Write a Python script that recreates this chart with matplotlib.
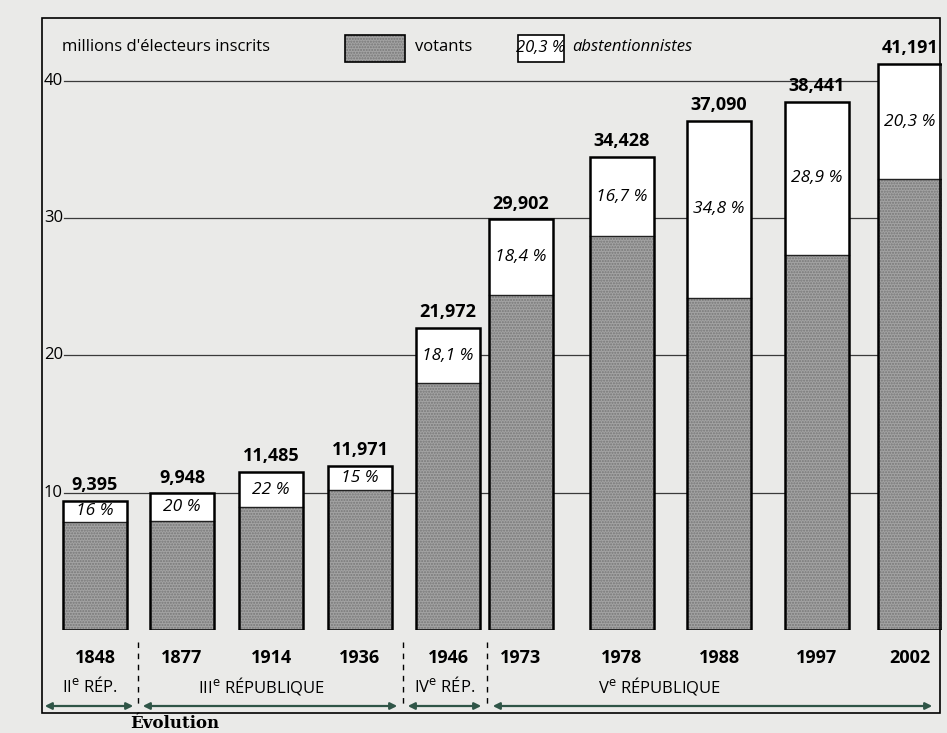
import numpy as np
import matplotlib
matplotlib.use('Agg')
import matplotlib.pyplot as plt
from matplotlib.patches import Rectangle, FancyArrowPatch

plt.rcParams['font.family'] = ['Open Sans', 'DejaVu Sans']

# data
years = ['1848', '1877', '1914', '1936', '1946', '1973', '1978', '1988', '1997', '2002']
inscrits = [9.395, 9.948, 11.485, 11.971, 21.972, 29.902, 34.428, 37.090, 38.441, 41.191]
abst_pct = [16, 20, 22, 15, 18.1, 18.4, 16.7, 34.8, 28.9, 20.3]
abst_txt = ['16 %', '20 %', '22 %', '15 %', '18,1 %', '18,4 %', '16,7 %', '34,8 %', '28,9 %', '20,3 %']
val_txt = ['9,395', '9,948', '11,485', '11,971', '21,972', '29,902', '34,428', '37,090', '38,441', '41,191']
yticks = [10, 20, 30, 40]
regimes = ['II$^{\\mathrm{e}}$ RÉP.', 'III$^{\\mathrm{e}}$ RÉPUBLIQUE', 'IV$^{\\mathrm{e}}$ RÉP.', 'V$^{\\mathrm{e}}$ RÉPUBLIQUE']

votants = [t * (1 - p / 100) for t, p in zip(inscrits, abst_pct)]

# layout (pixels across the figure)
xpos = [95, 182, 271, 360, 448, 521, 622, 719, 817, 910]
bw = 64
bg = '#eaeae8'
grey = '#a3a3a3'

fig = plt.figure(figsize=(9.47, 7.33), dpi=100)
fig.patch.set_facecolor(bg)
ax = fig.add_axes([42/947, 103/733, 900/947, 585/733])
ax.set_facecolor(bg)
ax.set_xlim(42, 942)
ax.set_ylim(0, 42.6)
ax.axis('off')

# gridlines
for t in yticks:
    ax.plot([64, 942], [t, t], color='#3a3a3a', lw=0.9, zorder=1)
    ax.text(44, t, str(t), ha='left', va='center', fontsize=12, zorder=3)

for i in range(len(years)):
    x0 = xpos[i] - bw / 2
    ax.add_patch(Rectangle((x0, votants[i]), bw, inscrits[i] - votants[i],
                           fc='white', ec='none', zorder=2))
    ax.add_patch(Rectangle((x0, 0), bw, votants[i], fc=grey, ec='#777777',
                           hatch='......', lw=0, zorder=2))
    ax.plot([x0, x0 + bw], [votants[i], votants[i]], color='#222222', lw=1.0, zorder=3)
    ax.add_patch(Rectangle((x0, 0), bw, inscrits[i], fc='none', ec='black',
                           lw=1.8, zorder=4))
    ax.text(xpos[i], inscrits[i] + 0.5, val_txt[i], ha='center', va='bottom',
            fontsize=13, fontweight='bold', zorder=5)
    ax.text(xpos[i], (inscrits[i] + votants[i]) / 2, abst_txt[i], ha='center', va='center',
            fontsize=12.5, style='italic', zorder=5)

# y label and legend
fig.text(62/947, 1 - 47/733, "millions d'électeurs inscrits", ha='left', va='center', fontsize=12)
fig.patches.append(Rectangle((345/947, 1 - 62/733), 60/947, 27/733, transform=fig.transFigure,
                             fc=grey, ec='#777777', hatch='......', lw=0))
fig.patches.append(Rectangle((345/947, 1 - 62/733), 60/947, 27/733, transform=fig.transFigure,
                             fc='none', ec='black', lw=1.2))
fig.text(415/947, 1 - 47/733, 'votants', ha='left', va='center', fontsize=12)
fig.patches.append(Rectangle((518/947, 1 - 62/733), 46/947, 27/733, transform=fig.transFigure,
                             fc='white', ec='black', lw=1.2))
fig.text(541/947, 1 - 48/733, '20,3 %', ha='center', va='center', fontsize=12, style='italic')
fig.text(572/947, 1 - 47/733, 'abstentionnistes', ha='left', va='center', fontsize=12, style='italic')

# years
for i in range(len(years)):
    fig.text(xpos[i]/947, 1 - 658/733, years[i], ha='center', va='center',
             fontsize=13, fontweight='bold')

# separators
for xs in [138, 403, 487]:
    fig.add_artist(plt.Line2D([xs/947, xs/947], [1 - 642/733, 1 - 706/733],
                              color='black', lw=1.0, ls=(0, (4, 4))))

# regimes + arrows
spans = [(42, 136), (140, 400), (405, 484), (490, 935)]
lab_x = [90, 262, 445, 660]
for (a, b), lx, lab in zip(spans, lab_x, regimes):
    fig.text(lx/947, 1 - 686/733, lab, ha='center', va='center', fontsize=12)
    arr = FancyArrowPatch((a/947, 1 - 706/733), (b/947, 1 - 706/733),
                          transform=fig.transFigure, arrowstyle='<|-|>',
                          mutation_scale=10, color='#2f5547', lw=1.6)
    fig.patches.append(arr)

# frame
fig.patches.append(Rectangle((42/947, 1 - 713/733), 898/947, 695/733, transform=fig.transFigure,
                             fc='none', ec='black', lw=1.2))

# caption under the frame
fig.text(130/947, 1 - 724/733, 'Évolution', ha='left', va='center', fontsize=12,
         fontweight='bold', family='DejaVu Serif')

fig.savefig('out.png', dpi=100, facecolor=bg)
